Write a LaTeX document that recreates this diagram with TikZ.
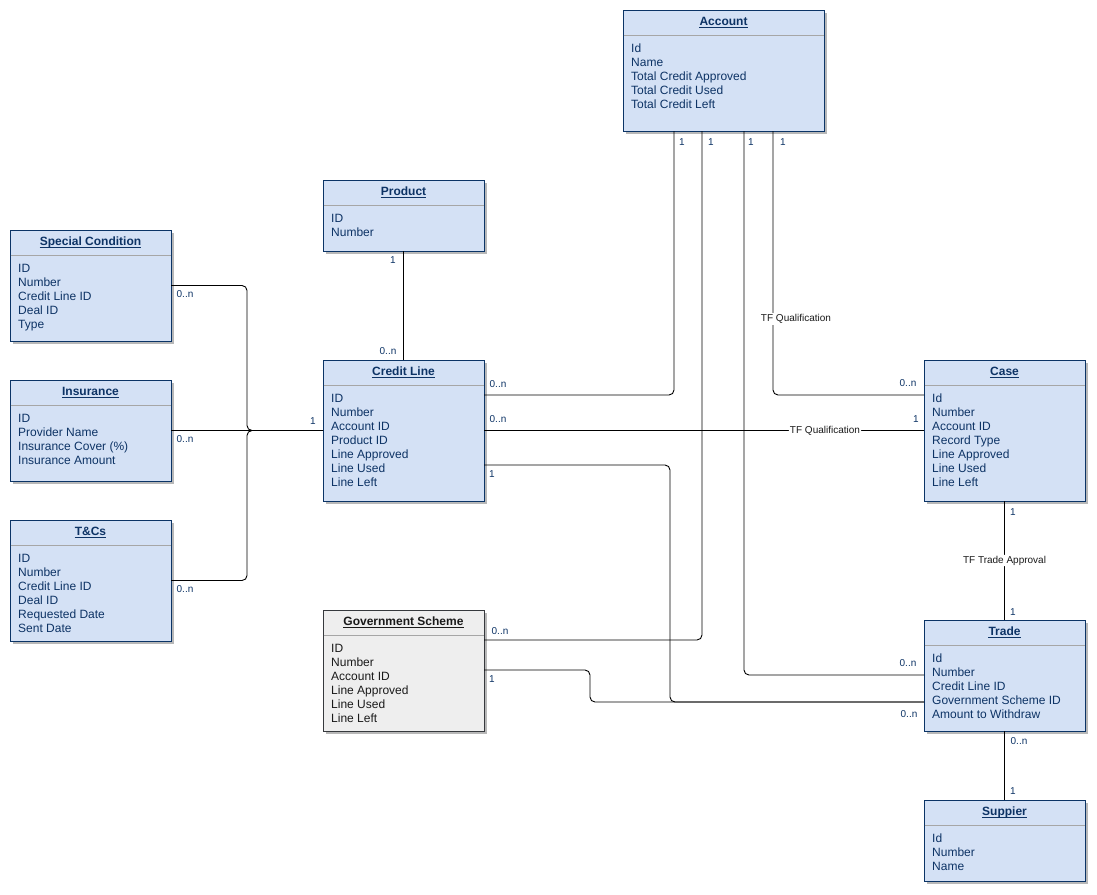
\documentclass[tikz,border=0pt]{standalone}
\usepackage{fontspec}
\setmainfont{Liberation Sans}
\usetikzlibrary{calc}

\definecolor{entfill}{HTML}{D4E1F5}
\definecolor{entline}{HTML}{0B3466}
\definecolor{enttext}{HTML}{0D3365}
\definecolor{gsfill}{HTML}{EEEEEE}
\definecolor{gsline}{HTML}{36393D}
\definecolor{gstext}{HTML}{1A1A1A}
\definecolor{shadowgray}{HTML}{B8B8B8}
\definecolor{sepgray}{HTML}{A6A6A6}
\definecolor{labeltext}{HTML}{1A1A1A}

\tikzset{
  entbox/.style={draw=entline, fill=entfill, line width=1pt, rectangle, inner sep=0pt, outer sep=0pt},
  gsbox/.style={draw=gsline, fill=gsfill, line width=1pt, rectangle, inner sep=0pt, outer sep=0pt},
  titletext/.style={font=\fontsize{12}{14}\selectfont\bfseries, inner sep=0pt},
  fieldtext/.style={font=\fontsize{12}{14}\selectfont, inner sep=0pt},
  conn/.style={draw=black, line width=0.9pt, rounded corners=5pt},
  multlabel/.style={font=\fontsize{10}{12}\selectfont, text=enttext, inner sep=0pt},
  edgelabel/.style={font=\fontsize{10}{12}\selectfont, text=labeltext, fill=white, inner sep=1pt},
}

% entity box: [kind]{name}{x}{y}{width}{height}{title}{fields}
\newcommand{\erbox}[8][ent]{%
  \fill[shadowgray] (#3+3,#4+3) rectangle ++(#5,#6);
  \node[#1box, minimum width=#5pt, minimum height=#6pt, anchor=north west] (#2) at (#3,#4) {};
  \draw[sepgray, line width=1pt] (#3+0.5,#4+25) -- (#3+#5-0.5,#4+25);
  \node[titletext, text=#1text, anchor=base] (#2-t) at (#3+#5/2,#4+15.5) {#7};
  \draw[#1text, line width=0.8pt] ($(#2-t.base west)+(0,1.7)$) -- ($(#2-t.base east)+(0,1.7)$);
  \foreach \f [count=\i] in {#8}
    \node[fieldtext, text=#1text, anchor=base west] (#2-f\i) at (#3+8,#4+28+14*\i) {\f};
}

% multiplicity label: {name}{x}{y}{text}
\newcommand{\mult}[4]{\node[multlabel] (#1) at (#2,#3) {#4};}

\begin{document}
\begin{tikzpicture}[x=1pt,y=-1pt]
\useasboundingbox (0,0) rectangle (1097,894);

% entities
\erbox{acc}{623}{10}{201}{121}{Account}{Id,Name,Total Credit Approved,Total Credit Used,Total Credit Left}
\erbox{prod}{323}{180}{161}{71}{Product}{ID,Number}
\erbox{sc}{10}{230}{161}{111}{Special Condition}{ID,Number,Credit Line ID,Deal ID,Type}
\erbox{ins}{10}{380}{161}{101}{Insurance}{ID,Provider Name,Insurance Cover (\%),Insurance Amount}
\erbox{tc}{10}{520}{161}{121}{T\&Cs}{ID,Number,Credit Line ID,Deal ID,Requested Date,Sent Date}
\erbox{cl}{323}{360}{161}{141}{Credit Line}{ID,Number,Account ID,Product ID,Line Approved,Line Used,Line Left}
\erbox{case}{924}{360}{161}{141}{Case}{Id,Number,Account ID,Record Type,Line Approved,Line Used,Line Left}
\erbox[gs]{gs}{323}{610}{161}{121}{Government Scheme}{ID,Number,Account ID,Line Approved,Line Used,Line Left}
\erbox{tr}{924}{620}{161}{111}{Trade}{Id,Number,Credit Line ID,Government Scheme ID,Amount to Withdraw}
\erbox{sup}{924}{800}{161}{81}{Suppier}{Id,Number,Name}

% connectors from Account
\draw[conn] ($(acc.south west)+(51,0)$) |- ($(cl.north east)+(0,35)$);
\draw[conn] ($(acc.south west)+(79,0)$) |- ($(gs.north east)+(0,30)$);
\draw[conn] ($(acc.south west)+(121,0)$) |- ($(tr.north west)+(0,55)$);
\draw[conn] ($(acc.south west)+(150,0)$) |- ($(case.north west)+(0,35)$);
\node[edgelabel] (tfq1) at (796,319) {TF Qualification};

% Credit Line to Case
\draw[conn] (cl.east) -- node[edgelabel, pos=0.775] (tfq2) {TF Qualification} (case.west);

% Credit Line and Government Scheme to Trade
\draw[conn] ($(cl.north east)+(0,105)$) -- ++(186,0) |- ($(tr.north west)+(0,82)$);
\draw[conn] ($(gs.north east)+(0,60)$) -- ++(106,0) |- ($(tr.north west)+(0,82)$);

% Product to Credit Line
\draw[conn] (prod.south) -- (cl.north);

% side entities to Credit Line
\draw[conn] (sc.east) -- ++(76,0) |- (cl.west);
\draw[conn] (ins.east) -- (cl.west);
\draw[conn] (tc.east) -- ++(76,0) |- (cl.west);

% Case to Trade, Trade to Suppier
\draw[conn] (case.south) -- node[edgelabel] (tfta) {TF Trade Approval} (tr.north);
\draw[conn] (tr.south) -- (sup.north);

% multiplicities
\mult{ma1}{682}{142}{1}
\mult{ma2}{711}{142}{1}
\mult{ma3}{751}{142}{1}
\mult{ma4}{783}{142}{1}
\mult{mc1}{498}{384}{0..n}
\mult{mc2}{498}{419}{0..n}
\mult{mc3}{492}{474}{1}
\mult{mg1}{500}{631}{0..n}
\mult{mg2}{492}{679}{1}
\mult{mk1}{908}{383}{0..n}
\mult{mk2}{916}{419}{1}
\mult{mk3}{1013}{512}{1}
\mult{mt1}{1013}{612}{1}
\mult{mt2}{908}{663}{0..n}
\mult{mt3}{909}{714}{0..n}
\mult{mt4}{1019}{741}{0..n}
\mult{ms1}{1013}{791}{1}
\mult{mp1}{393}{260}{1}
\mult{mp2}{388}{351}{0..n}
\mult{mx1}{185}{294}{0..n}
\mult{mx2}{185}{439}{0..n}
\mult{mx3}{185}{589}{0..n}
\mult{mx4}{313}{421}{1}

\end{tikzpicture}
\end{document}
